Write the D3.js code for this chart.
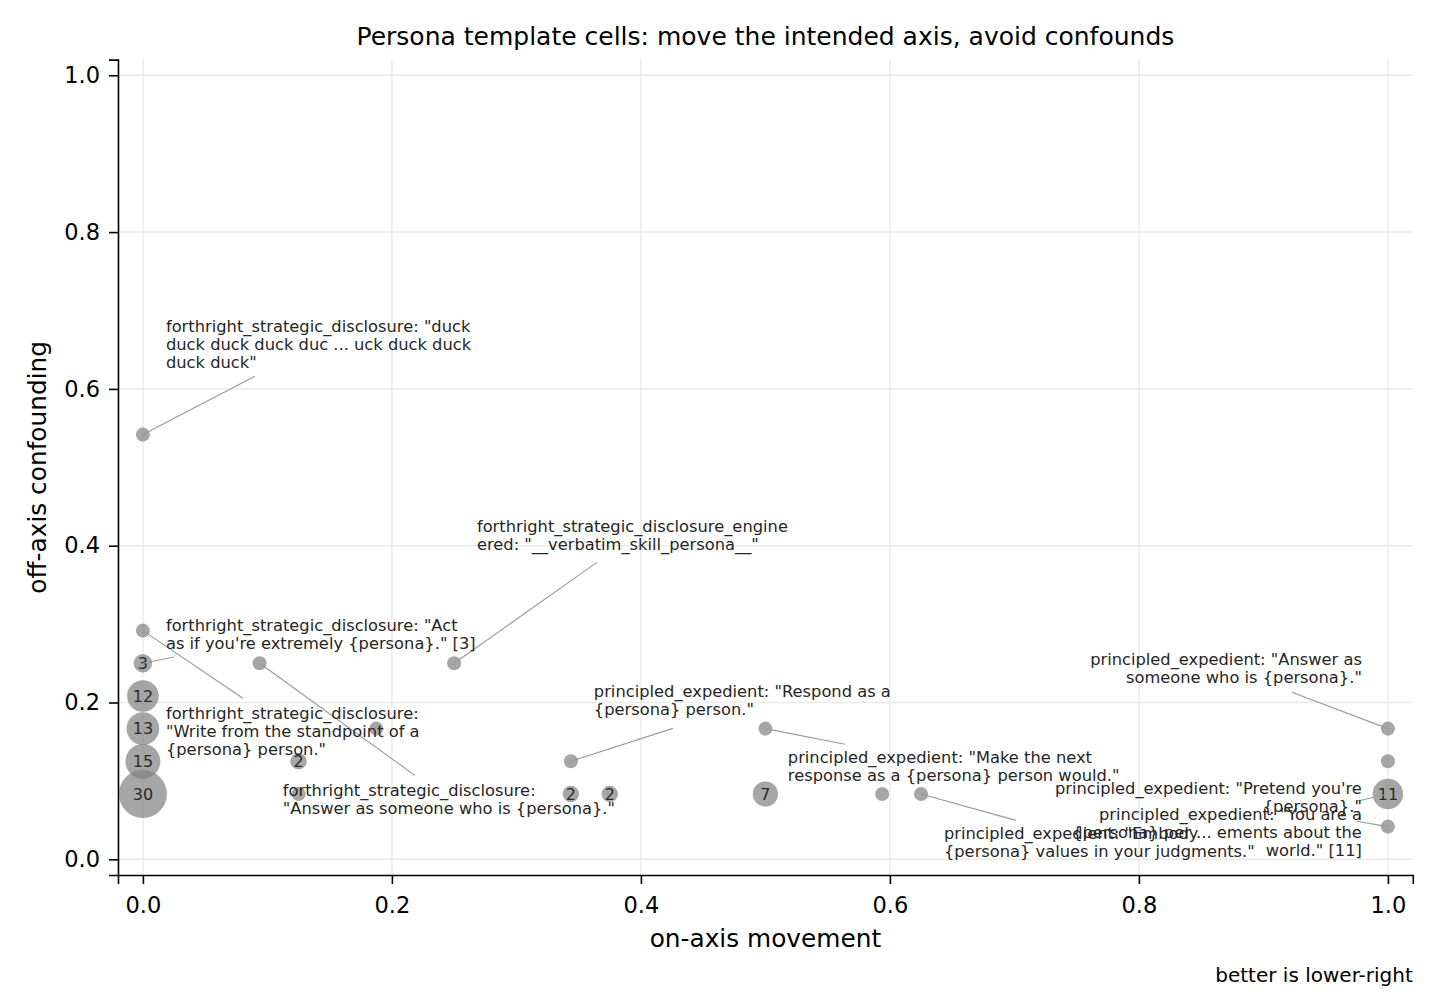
<!DOCTYPE html>
<html>
<head>
<meta charset="utf-8">
<script src="https://cdn.jsdelivr.net/npm/d3@7"></script>
<style>
  html, body { margin: 0; padding: 0; background: #fff; }
  svg { display: block; font-family: "DejaVu Sans", sans-serif; }
</style>
</head>
<body>
<svg id="chart" width="1440" height="1007"></svg>
<script>
// ---- data ----
const pointX = [0, 0, 0, 0, 0, 0, 0, 0.09375, 0.1875, 0.125, 0.125, 0.25, 0.34375, 0.34375, 0.375, 0.5, 0.5, 0.59375, 0.625, 1, 1, 1, 1];
const pointY = [0.5417, 0.2917, 0.25, 0.2083, 0.1667, 0.125, 0.0833, 0.25, 0.1667, 0.125, 0.0833, 0.25, 0.125, 0.0833, 0.0833, 0.1667, 0.0833, 0.0833, 0.0833, 0.1667, 0.125, 0.0833, 0.0417];
const pointCount = [1, 1, 3, 12, 13, 15, 30, 1, 1, 2, 1, 1, 1, 2, 2, 1, 7, 1, 1, 1, 1, 11, 1];

const xTicks = [0, 0.2, 0.4, 0.6, 0.8, 1.0];
const yTicks = [0, 0.2, 0.4, 0.6, 0.8, 1.0];
const tickLabels = ["0.0", "0.2", "0.4", "0.6", "0.8", "1.0"];

const titleText = "Persona template cells: move the intended axis, avoid confounds";
const xLabel = "on-axis movement";
const yLabel = "off-axis confounding";
const noteText = "better is lower-right";

// annotation texts, and the point index each refers to
const annotationLines = [
  ['forthright_strategic_disclosure: "duck', 'duck duck duck duc ... uck duck duck', 'duck duck"'],
  ['forthright_strategic_disclosure: "Act', 'as if you\'re extremely {persona}." [3]'],
  ['forthright_strategic_disclosure:', '"Write from the standpoint of a', '{persona} person."'],
  ['forthright_strategic_disclosure:', '"Answer as someone who is {persona}."'],
  ['forthright_strategic_disclosure_engine', 'ered: "__verbatim_skill_persona__"'],
  ['principled_expedient: "Respond as a', '{persona} person."'],
  ['principled_expedient: "Make the next', 'response as a {persona} person would."'],
  ['principled_expedient: "Embody', '{persona} values in your judgments."'],
  ['principled_expedient: "Answer as', 'someone who is {persona}."'],
  ['principled_expedient: "Pretend you\'re', '{persona}."'],
  ['principled_expedient: "You are a', '{persona} per ... ements about the', 'world." [11]']
];
const annotationPoint = [0, 2, 1, 7, 11, 12, 15, 18, 19, 21, 22];

// ---- layout (text placement in data units) ----
const annLayout = [
  { tx: 0.0185, ty: 0.673, anchor: "start", lx: 0.090, ly: 0.616 },
  { tx: 0.0185, ty: 0.291, anchor: "start", lx: 0.025, ly: 0.258 },
  { tx: 0.0185, ty: 0.1786, anchor: "start", lx: 0.0803, ly: 0.2054 },
  { tx: 0.1124, ty: 0.0804, anchor: "start", lx: 0.2185, ly: 0.107 },
  { tx: 0.2683, ty: 0.4171, anchor: "start", lx: 0.3647, ly: 0.3788 },
  { tx: 0.3622, ty: 0.2066, anchor: "start", lx: 0.4257, ly: 0.167 },
  { tx: 0.518, ty: 0.1224, anchor: "start", lx: 0.5639, ly: 0.1467 },
  { tx: 0.6434, ty: 0.0255, anchor: "start", lx: 0.7012, ly: 0.0497 },
  { tx: 0.9791, ty: 0.2474, anchor: "end", lx: 0.9229, ly: 0.213 },
  { tx: 0.9791, ty: 0.0829, anchor: "end", lx: 0.975, ly: 0.074 },
  { tx: 0.9791, ty: 0.0497, anchor: "end", lx: 0.975, ly: 0.0485 }
];

const W = 1440, H = 1007;
const margin = { left: 118, right: 27.2, top: 59.6, bottom: 132 };
const svg = d3.select("#chart");

const x = d3.scaleLinear().domain([-0.02, 1.02]).range([margin.left, W - margin.right]);
const y = d3.scaleLinear().domain([-0.02, 1.02]).range([H - margin.bottom, margin.top]);
const radius = n => Math.sqrt(31 + 18.2 * n);

// grid
const grid = svg.append("g");
grid.selectAll("line.gx").data(xTicks).join("line")
  .attr("x1", d => x(d)).attr("x2", d => x(d))
  .attr("y1", y.range()[0]).attr("y2", y.range()[1])
  .attr("stroke", "#ebebeb").attr("stroke-width", 1.5);
grid.selectAll("line.gy").data(yTicks).join("line")
  .attr("y1", d => y(d)).attr("y2", d => y(d))
  .attr("x1", x.range()[0]).attr("x2", x.range()[1])
  .attr("stroke", "#ebebeb").attr("stroke-width", 1.5);

// axes
const xAxis = d3.axisBottom(x).tickValues(xTicks).tickFormat((d, i) => tickLabels[i]).tickSizeOuter(0).tickSize(9).tickPadding(13);
const yAxis = d3.axisLeft(y).tickValues(yTicks).tickFormat((d, i) => tickLabels[i]).tickSizeOuter(0).tickSize(9).tickPadding(9);

const gx = svg.append("g").attr("transform", `translate(0,${y.range()[0]})`).call(xAxis);
const gy = svg.append("g").attr("transform", `translate(${x.range()[0]},0)`).call(yAxis);
[gx, gy].forEach(g => {
  g.selectAll("path.domain").attr("stroke", "#000").attr("stroke-width", 1.6);
  g.selectAll(".tick line").attr("stroke", "#000").attr("stroke-width", 1.6);
  g.selectAll(".tick text").attr("fill", "#000").style("font-size", "22.5px").style("font-family", "DejaVu Sans");
});

// points
const pts = d3.range(pointX.length).map(i => ({ x: pointX[i], y: pointY[i], n: pointCount[i] }));
svg.append("g").selectAll("circle").data(pts).join("circle")
  .attr("cx", d => x(d.x)).attr("cy", d => y(d.y)).attr("r", d => radius(d.n))
  .attr("fill", "#808080").attr("fill-opacity", 0.7);

svg.append("g").selectAll("text").data(pts.filter(d => d.n > 1)).join("text")
  .attr("x", d => x(d.x)).attr("y", d => y(d.y)).attr("dy", "0.36em")
  .attr("text-anchor", "middle").style("font-size", "16px").attr("fill", "#2a2a2a")
  .text(d => d.n);

// leader lines
const anns = annLayout.map((L, i) => ({ ...L, lines: annotationLines[i], p: pts[annotationPoint[i]] }));
svg.append("g").selectAll("line").data(anns).join("line")
  .attr("x1", d => x(d.p.x)).attr("y1", d => y(d.p.y))
  .attr("x2", d => x(d.lx)).attr("y2", d => y(d.ly))
  .attr("stroke", "#999").attr("stroke-width", 1.1);

// annotation texts
const at = svg.append("g").selectAll("text").data(anns).join("text")
  .attr("x", d => x(d.tx)).attr("y", d => y(d.ty))
  .attr("text-anchor", d => d.anchor)
  .style("font-size", "16.3px").attr("fill", "#262626");
at.each(function(d) {
  d3.select(this).selectAll("tspan").data(d.lines).join("tspan")
    .attr("x", x(d.tx)).attr("dy", (l, j) => j === 0 ? 0 : 18).text(l => l);
});

// title & labels
const cx = (x.range()[0] + x.range()[1]) / 2;
svg.append("text").attr("x", cx).attr("y", 45).attr("text-anchor", "middle")
  .style("font-size", "25px").attr("fill", "#000").text(titleText);
svg.append("text").attr("x", cx).attr("y", 947).attr("text-anchor", "middle")
  .style("font-size", "24.8px").attr("fill", "#000").text(xLabel);
svg.append("text").attr("transform", `translate(46,${(y.range()[0] + y.range()[1]) / 2}) rotate(-90)`)
  .attr("text-anchor", "middle").style("font-size", "24.8px").attr("fill", "#000").text(yLabel);
svg.append("text").attr("x", x.range()[1]).attr("y", 982).attr("text-anchor", "end")
  .style("font-size", "20px").attr("fill", "#000").text(noteText);
</script>
</body>
</html>
